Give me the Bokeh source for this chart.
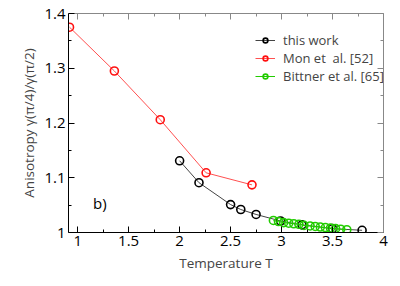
from bokeh.plotting import figure
from bokeh.models import LinearAxis, Legend, LegendItem, Range1d, Label, FixedTicker
from bokeh.embed import file_html
from bokeh.resources import INLINE

# data
this_T = [2.0, 2.19, 2.5, 2.6, 2.75, 2.99, 3.2, 3.5, 3.79]
this_A = [1.131, 1.091, 1.051, 1.042, 1.033, 1.021, 1.014, 1.007, 1.004]

mon_T = [0.92, 1.36, 1.81, 2.26, 2.71]
mon_A = [1.375, 1.295, 1.206, 1.109, 1.087]

bit_T = [2.92, 2.97, 3.02, 3.07, 3.12, 3.17, 3.22, 3.28, 3.33, 3.38, 3.43, 3.48, 3.53, 3.58, 3.64]
bit_A = [1.022, 1.020, 1.018, 1.017, 1.016, 1.015, 1.013, 1.012, 1.011, 1.010, 1.009, 1.008, 1.007, 1.006, 1.005]

x_ticks = [1, 1.5, 2, 2.5, 3, 3.5, 4]
x_minor = [1.25, 1.75, 2.25, 2.75, 3.25, 3.75]
y_ticks = [1.0, 1.1, 1.2, 1.3, 1.4]
y_minor = [1.05, 1.15, 1.25, 1.35]

FONT = "Open Sans"

p = figure(width=392, height=278, output_backend="svg", toolbar_location=None,
           x_range=Range1d(0.91, 4.0), y_range=Range1d(1.0, 1.4),
           min_border_left=68, min_border_right=9, min_border_top=13, min_border_bottom=46)
p.grid.visible = False
p.outline_line_color = None
p.background_fill_color = "white"

def style_axis(ax, color):
    ax.axis_line_color = color
    ax.major_tick_line_color = color
    ax.minor_tick_line_color = color
    ax.major_tick_in = 6
    ax.major_tick_out = 0
    ax.minor_tick_in = 3
    ax.minor_tick_out = 0
    ax.major_label_text_font = FONT
    ax.major_label_text_color = "black"
    ax.major_label_text_font_size = "15px"

xt = FixedTicker(ticks=x_ticks, minor_ticks=x_minor)
yt = FixedTicker(ticks=y_ticks, minor_ticks=y_minor)
p.xaxis.ticker = xt
p.yaxis.ticker = yt
style_axis(p.xaxis[0], "black")
style_axis(p.yaxis[0], "black")
p.xaxis.major_label_standoff = 3
p.yaxis.major_label_standoff = 3
p.xaxis.major_label_overrides = {1: "1", 2: "2", 3: "3", 4: "4"}
p.yaxis.major_label_overrides = {1.0: "1"}

p.xaxis.axis_label = "Temperature T"
p.yaxis.axis_label = "Anisotropy γ(π/4)/γ(π/2)"
for ax in (p.xaxis[0], p.yaxis[0]):
    ax.axis_label_text_font = FONT
    ax.axis_label_text_font_style = "normal"
    ax.axis_label_text_font_size = "13.5px"
p.xaxis.axis_label_standoff = 5
p.yaxis.axis_label_standoff = 3

top = LinearAxis(ticker=xt)
right = LinearAxis(ticker=yt)
for ax in (top, right):
    style_axis(ax, "#888888")
    ax.major_label_text_font_size = "1px"
    ax.major_label_standoff = 0
top.major_label_overrides = {t: "" for t in x_ticks}
right.major_label_overrides = {t: "" for t in y_ticks}
p.add_layout(top, "above")
p.add_layout(right, "right")

def series(T, A, col, lcol):
    l = p.line(T, A, line_color=lcol, line_width=1)
    s = p.scatter(T, A, marker="circle", size=8, fill_color=None, line_color=col, line_width=1.6)
    return l, s

lb, sb = series(this_T, this_A, "black", "#444444")
lm, sm = series(mon_T, mon_A, "#ff1010", "#ff5050")
lg, sg = series(bit_T, bit_A, "#22cc00", "#22cc00")

legend = Legend(items=[
    LegendItem(label="this work", renderers=[lb, sb]),
    LegendItem(label="Mon et  al. [52]", renderers=[lm, sm]),
    LegendItem(label="Bittner et al. [65]", renderers=[lg, sg]),
], location=(187, 147))
legend.background_fill_alpha = 0
legend.border_line_color = None
legend.label_text_font = FONT
legend.label_text_font_size = "13px"
legend.label_text_line_height = 1.0
legend.glyph_width = 20
legend.glyph_height = 12
legend.label_height = 12
legend.spacing = -4
legend.label_standoff = 8
legend.padding = 0
legend.margin = 0
p.add_layout(legend)

p.add_layout(Label(x=1.15, y=1.035, text="b)", text_font=FONT, text_font_size="15px",
                   text_color="black"))

open("out.html", "w").write(file_html(p, INLINE))
